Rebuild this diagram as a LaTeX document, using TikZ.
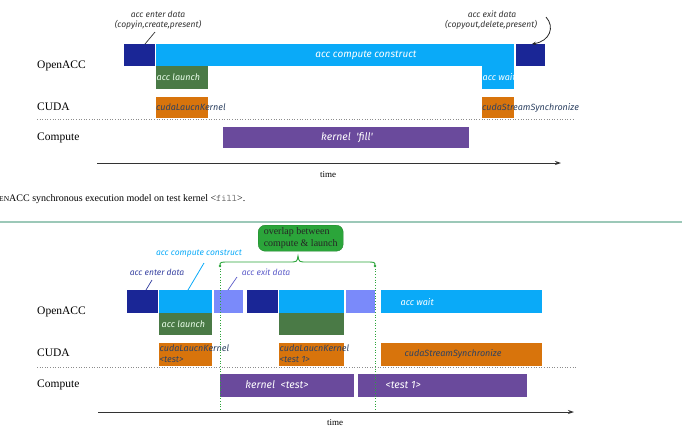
\documentclass[tikz,border=0pt]{standalone}
\usepackage{fontspec}
\setmainfont{Liberation Serif}
\newfontfamily\boxfont{Fira Sans}
\usetikzlibrary{arrows.meta}
\definecolor{navy}{HTML}{1A2696}
\definecolor{sky}{HTML}{0AAAF8}
\definecolor{peri}{HTML}{7A8AFA}
\definecolor{leaf}{HTML}{4A7A46}
\definecolor{amber}{HTML}{D8740C}
\definecolor{violet}{HTML}{6A4A9C}
\definecolor{slate}{HTML}{2E4262}
\definecolor{olive}{HTML}{2BA53A}
\definecolor{rule}{HTML}{9CC8B8}
\definecolor{enterc}{HTML}{3540A0}
\definecolor{exitc}{HTML}{5A5AC8}
\tikzset{
  bar/.style={draw=none, inner sep=0pt, outer sep=0pt, anchor=north west},
  btext/.style={font=\boxfont\itshape\fontsize{9}{10}\selectfont, inner sep=0.5pt},
  bigtext/.style={font=\boxfont\itshape\fontsize{10.5}{11}\selectfont, inner sep=0.5pt},
  atext/.style={font=\boxfont\itshape\fontsize{8.5}{10}\selectfont, inner sep=0.5pt, text=black!80},
  rowlab/.style={font=\fontsize{11.5}{13}\selectfont, anchor=west, inner sep=0pt},
  timelab/.style={font=\fontsize{9}{10}\selectfont, inner sep=0pt},
  axis/.style={draw=black!80, line width=0.9pt, -{Stealth[length=6pt,width=4pt]}},
  sep/.style={draw=black!45, dotted, line width=0.6pt},
  gdot/.style={draw=olive, dotted, line width=0.7pt},
}
\begin{document}
\begin{tikzpicture}[x=1pt,y=-1pt]
\useasboundingbox (0,0) rectangle (682,440);

% ================= TOP DIAGRAM =================
\node[bar, fill=navy,   minimum width=31pt,    minimum height=22pt] (e1) at (124,44) {};
\node[bar, fill=sky,    minimum width=358.5pt, minimum height=22pt] (c1) at (155.5,44) {};
\node[bar, fill=navy,   minimum width=29.5pt,  minimum height=22pt] (x1) at (515.5,44) {};
\node[bar, fill=leaf,   minimum width=52pt,    minimum height=23pt] (l1) at (156,66) {};
\node[bar, fill=sky,    minimum width=32pt,    minimum height=23pt] (w1) at (482,66) {};
\node[bar, fill=amber,  minimum width=52pt,    minimum height=21pt] (k1) at (156,97) {};
\node[bar, fill=amber,  minimum width=32pt,    minimum height=21pt] (s1) at (482,97) {};
\node[bar, fill=violet, minimum width=246pt,   minimum height=21pt] (f1) at (223,127) {};

\node[bigtext, text=white, font=\boxfont\itshape\fontsize{10}{11}\selectfont] (c1t) at (366,55) {acc compute construct};
\node[btext, text=white!92!green, anchor=west] (l1t) at (156,77) {acc launch};
\node[btext, text=slate, anchor=west] (k1t) at (155.5,107.5) {cudaLaucnKernel};
\node[btext, text=white, anchor=west] (w1t) at (482,77) {acc wait};
\node[btext, text=slate, anchor=west] (s1t) at (481.5,107.5) {cudaStreamSynchronize};
\node[bigtext, text=white] (f1t) at (347,138) {kernel\ \ \char"0027 fill\char"0027};

\node[atext] (ent1) at (158,14) {acc enter data};
\node[atext] (ent1b) at (158,25) {(copyin,create,present)};
\node[atext] (ext1) at (492,14) {acc exit data};
\node[atext] (ext1b) at (491,25) {(copyout,delete,present)};
\coordinate (ent1s) at (155,32);
\coordinate (e1top) at (145,44);
\draw[black!80, line width=0.7pt] (ent1s) -- (e1top);
\coordinate (ext1s) at (546,17);
\coordinate (x1top) at (532,44);
\draw[black!85, line width=0.8pt, -{Stealth[length=4pt,width=3.5pt]}] (ext1s) .. controls (555,27) and (550,41) .. (x1top);

\node[rowlab] (r1) at (37,66) {OpenACC};
\node[rowlab] (r2) at (37,107) {CUDA};
\node[rowlab] (r3) at (37,138) {Compute};
\coordinate (d1a) at (37,119);
\coordinate (d1b) at (575,119);
\draw[sep] (d1a) -- (d1b);
\coordinate (ax1a) at (97,163);
\coordinate (ax1b) at (561,163);
\draw[axis] (ax1a) -- (ax1b);
\node[timelab] (tm1) at (328,175) {time};

% caption and rule
\node[anchor=west, inner sep=0pt, font=\fontsize{10}{12}\selectfont] (cap) at (-1,199)
  {{\fontsize{7.5}{9}\selectfont EN}ACC synchronous execution model on test kernel <{\color{black!60}\texttt{fill}}>.};
\coordinate (rl) at (0,222);
\coordinate (rr) at (682,222);
\draw[rule, line width=1.4pt] (rl) -- (rr);

% ================= BOTTOM DIAGRAM =================
\node[bar, fill=navy,   minimum width=31pt,  minimum height=23pt] (e2) at (127,290) {};
\node[bar, fill=sky,    minimum width=53pt,  minimum height=23pt] (c2) at (159,290) {};
\node[bar, fill=peri,   minimum width=29pt,  minimum height=23pt] (x2) at (214,290) {};
\node[bar, fill=navy,   minimum width=31pt,  minimum height=23pt] (e3) at (247,290) {};
\node[bar, fill=sky,    minimum width=65pt,  minimum height=23pt] (c3) at (279,290) {};
\node[bar, fill=peri,   minimum width=29pt,  minimum height=23pt] (x3) at (346,290) {};
\node[bar, fill=sky,    minimum width=161pt, minimum height=23pt] (w2) at (381,290) {};
\node[bar, fill=leaf,   minimum width=53pt,  minimum height=22pt] (l2) at (159,313) {};
\node[bar, fill=leaf,   minimum width=65pt,  minimum height=22pt] (l3) at (279,313) {};
\node[bar, fill=amber,  minimum width=53pt,  minimum height=23pt] (k2) at (159,343) {};
\node[bar, fill=amber,  minimum width=65pt,  minimum height=23pt] (k3) at (279,343) {};
\node[bar, fill=amber,  minimum width=161pt, minimum height=23pt] (s2) at (381,343) {};
\node[bar, fill=violet, minimum width=134pt, minimum height=23pt] (t1) at (220,374) {};
\node[bar, fill=violet, minimum width=169pt, minimum height=23pt] (t2) at (358,374) {};

\node[btext, text=white!92!green, anchor=west] (l2t) at (161,324) {acc launch};
\node[btext, text=slate, anchor=west] (k2t) at (159,348.5) {cudaLaucnKernel};
\node[btext, text=slate, anchor=west] (k2u) at (159,360) {<test>};
\node[btext, text=slate, anchor=west] (k3t) at (279,348.5) {cudaLaucnKernel};
\node[btext, text=slate, anchor=west] (k3u) at (279,360) {<test 1>};
\node[btext, text=white, anchor=west] (w2t) at (400,302) {acc wait};
\node[btext, text=slate, anchor=west] (s2t) at (404,354) {cudaStreamSynchronize};
\node[bigtext, text=white] (t1t) at (277,385) {kernel\ \ <test>};
\node[bigtext, text=white, anchor=west] (t2t) at (385,385) {<test 1>};

\node[atext, text=sky] (cc2) at (199,254) {acc compute construct};
\node[atext, text=enterc] (ent2) at (157,272) {acc enter data};
\node[atext, text=exitc] (ext2) at (266,272) {acc exit data};
\coordinate (cc2s) at (204,263);
\coordinate (c2top) at (188,290);
\draw[sky, line width=0.8pt] (cc2s) -- (c2top);
\coordinate (ent2s) at (152,280);
\coordinate (e2top) at (146,290);
\draw[enterc, line width=0.7pt] (ent2s) -- (e2top);
\coordinate (ext2s) at (237,277);
\coordinate (x2top) at (228,290);
\draw[exitc, line width=0.7pt] (ext2s) -- (x2top);

\node[rowlab] (r4) at (37,312) {OpenACC};
\node[rowlab] (r5) at (37,353) {CUDA};
\node[rowlab] (r6) at (37,385) {Compute};
\coordinate (d2a) at (37,367);
\coordinate (d2b) at (576,367);
\draw[sep] (d2a) -- (d2b);

% overlap markers
\coordinate (g1a) at (220,266);
\coordinate (g1b) at (220,412);
\coordinate (g2a) at (375,266);
\coordinate (g2b) at (375,412);
\draw[gdot] (g1a) -- (g1b);
\draw[gdot] (g2a) -- (g2b);

\coordinate (ax2a) at (98,412);
\coordinate (ax2b) at (574,412);
\draw[axis] (ax2a) -- (ax2b);
\node[timelab] (tm2) at (335,423) {time};

% brace
\coordinate (bp) at (298,256);
\draw[olive, line width=0.9pt] (g1a) .. controls (220,262) .. (229,262) -- (289,262)
   .. controls (297,262) .. (bp) .. controls (299,262) .. (307,262) -- (366,262)
   .. controls (375,262) .. (g2a);
\fill[olive] (g1a) circle (1.4pt);
\fill[olive] (g2a) circle (1.4pt);

\node[draw=olive!80!black, line width=0.4pt, fill=olive, rounded corners=7pt, anchor=north west,
      minimum width=85pt, minimum height=26pt, inner sep=2pt, align=left,
      font=\fontsize{10}{12}\selectfont, text=black!85] (ov) at (258,225)
  {overlap between\\compute \& launch};
\end{tikzpicture}
\end{document}
